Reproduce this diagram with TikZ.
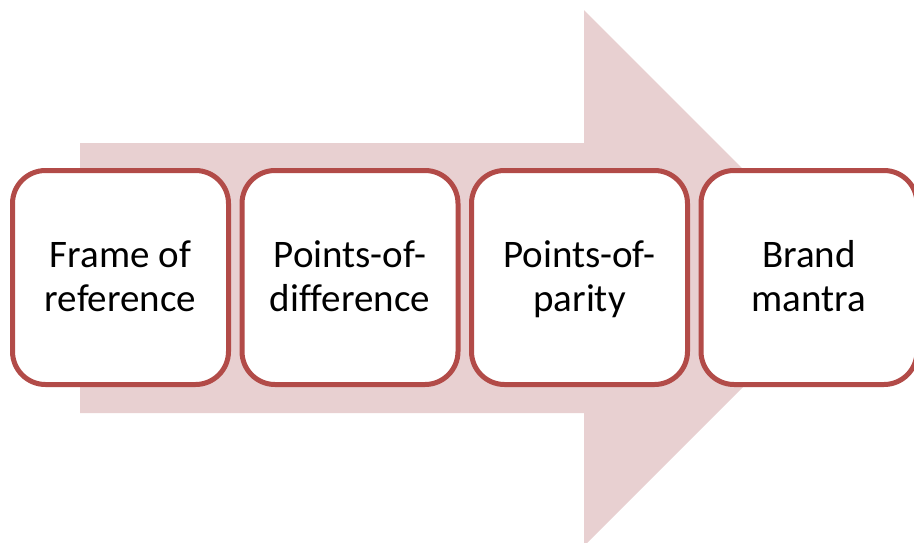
\documentclass[tikz,border=0pt]{standalone}
\usepackage{fontspec}
\setmainfont[Ligatures=NoCommon]{Carlito}
\definecolor{boxred}{RGB}{178,75,72}
\definecolor{arrowpink}{RGB}{232,208,209}
\begin{document}
\begin{tikzpicture}[x=1pt, y=-1pt,
    stage/.style={rectangle, rounded corners=33pt, draw=boxred, line width=5pt,
      fill=white, minimum width=216pt, minimum height=214pt, align=center,
      text depth=3pt, font=\fontsize{39}{44}\selectfont}]
          \useasboundingbox (0,0) rectangle (914,542);
          \clip (0,0) rectangle (914,542);
          \fill[arrowpink] (80,143) -- (584,143) -- (584,10) -- (852,278)
                -- (584,546) -- (584,413) -- (80,413) -- cycle;

          \node[stage] (frame) at (120.5,277.5) {Frame of\\reference};
          \node[stage] (pod) at (350,277.5) {Points-of-\\difference};
          \node[stage] (pop) at (579.5,277.5) {Points-of-\\parity};
          \node[stage] (mantra) at (809,277.5) {Brand\\mantra};
        \end{tikzpicture}
\end{document}
